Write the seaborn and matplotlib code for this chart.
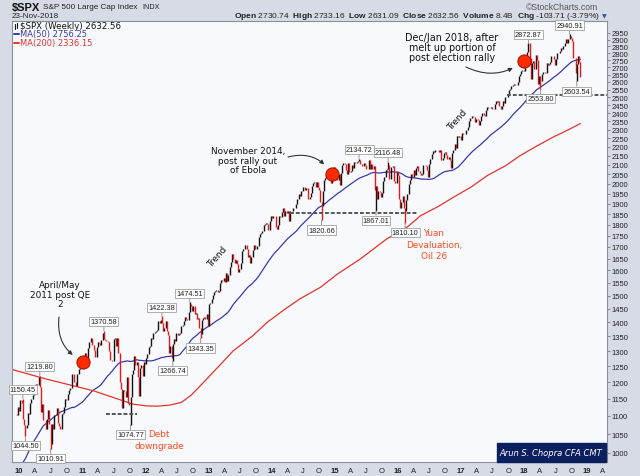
import numpy as np
import pandas as pd
import seaborn as sns
import matplotlib.pyplot as plt
import matplotlib.dates as mdates
from matplotlib.lines import Line2D
from matplotlib.patches import Rectangle

# weekly closes of $SPX, first week ends 2009-12-04
closes_2009 = [1105.98, 1106.41, 1102.47, 1126.48, 1115.10]
closes_2010 = [1144.98, 1136.03, 1091.76, 1073.87, 1066.19, 1075.51, 1109.17, 1104.49,
               1138.70, 1149.99, 1159.90, 1166.59, 1178.10, 1194.37, 1192.13, 1217.28, 1186.69,
               1110.88, 1135.68, 1087.69, 1089.41, 1064.88, 1091.60, 1117.51, 1076.76,
               1022.58, 1077.96, 1064.88, 1102.66, 1101.60, 1121.64, 1079.25, 1071.69, 1064.59,
               1104.51, 1109.55, 1125.59, 1148.67, 1146.24, 1165.15, 1176.19, 1183.08, 1183.26,
               1225.85, 1199.21, 1199.73, 1189.40, 1224.71, 1240.40, 1243.91, 1256.77, 1257.64]
closes_2011 = [1271.50, 1293.24, 1283.35, 1276.34, 1310.87, 1329.15, 1343.01, 1319.88,
               1321.15, 1304.28, 1279.21, 1313.80, 1332.41, 1328.17, 1319.68, 1337.38, 1363.61,
               1340.20, 1337.77, 1333.27, 1331.10, 1300.16, 1270.98, 1271.50, 1268.45,
               1339.67, 1343.80, 1316.14, 1345.02, 1292.28, 1199.38, 1178.81, 1123.53, 1176.80,
               1173.97, 1154.23, 1216.01, 1136.43, 1131.42, 1155.46, 1224.58, 1238.25, 1285.09,
               1253.23, 1263.85, 1215.65, 1158.67, 1244.28, 1255.19, 1219.66, 1265.33, 1257.60]
closes_2012 = [1277.81, 1289.09, 1315.38, 1316.33, 1344.90, 1342.64, 1361.23, 1365.74,
               1369.63, 1370.87, 1404.17, 1397.11, 1408.47, 1398.08, 1370.26, 1378.53, 1403.36,
               1369.10, 1353.39, 1295.22, 1317.82, 1278.04, 1325.66, 1342.84, 1335.02, 1362.16,
               1354.68, 1356.78, 1362.66, 1385.97, 1390.99, 1405.87, 1418.16, 1411.13, 1406.58,
               1437.92, 1465.77, 1460.15, 1440.67, 1460.93, 1428.59, 1433.19, 1411.94,
               1414.20, 1379.85, 1359.88, 1409.15, 1416.18, 1418.07, 1413.58, 1430.15, 1385.59]
closes_2013 = [1466.47, 1472.05, 1485.98, 1502.96, 1513.17, 1517.93, 1519.79, 1515.60,
               1518.20, 1551.18, 1560.70, 1556.89, 1569.19, 1553.28, 1588.85, 1555.25, 1582.24,
               1614.42, 1633.70, 1667.47, 1649.60, 1630.74, 1643.38, 1626.73, 1592.43, 1606.28,
               1631.89, 1680.19, 1692.09, 1691.65, 1709.67, 1691.42, 1655.83, 1663.50, 1632.97,
               1655.17, 1687.99, 1709.91, 1691.75, 1690.50, 1703.20, 1744.50, 1759.77,
               1761.64, 1770.61, 1798.18, 1804.76, 1805.81, 1805.09, 1775.32, 1818.32, 1841.40]
closes_2014 = [1831.37, 1842.37, 1838.70, 1790.29, 1782.59, 1797.02, 1838.63, 1836.25, 1859.45,
               1878.04, 1841.13, 1866.52, 1857.62, 1865.09, 1815.69, 1864.85, 1863.40,
               1881.14, 1878.48, 1877.86, 1900.53, 1923.57, 1949.44, 1936.16, 1962.87, 1960.96,
               1985.44, 1967.57, 1978.22, 1978.34, 1925.15, 1931.59, 1955.06, 1988.40, 2003.37,
               2007.71, 1985.54, 2010.40, 1982.85, 1967.90, 1906.13, 1886.76, 1964.58, 2018.05,
               2031.92, 2039.82, 2063.50, 2067.56, 2075.37, 2002.33, 2070.65, 2088.77]
closes_2015 = [2058.20, 2044.81, 2019.42, 2051.82, 1994.99, 2055.47, 2096.99, 2110.30, 2104.50,
               2071.26, 2053.40, 2108.10, 2061.02, 2066.96, 2102.06, 2081.18, 2117.69,
               2108.29, 2116.10, 2122.73, 2126.06, 2107.39, 2092.83, 2094.11, 2109.99, 2101.49,
               2076.78, 2076.62, 2126.64, 2079.65, 2103.84, 2077.57, 2091.54, 1970.89, 1988.87,
               1921.22, 1961.05, 1958.03, 1931.34, 1951.36, 2014.89, 2033.11, 2075.15, 2079.36,
               2099.20, 2023.04, 2089.17, 2090.11, 2091.69, 2012.37, 2005.55, 2060.99, 2043.94]
closes_2016 = [1922.03, 1880.33, 1906.90, 1940.24, 1880.05, 1864.78, 1917.78, 1948.05,
               1999.99, 2022.19, 2049.58, 2035.94, 2072.78, 2047.60, 2080.73, 2091.58, 2065.30,
               2057.14, 2046.61, 2052.32, 2099.06, 2099.13, 2096.07, 2071.22, 2037.41,
               2102.95, 2129.90, 2161.74, 2175.03, 2173.60, 2182.87, 2184.05, 2183.87, 2169.04,
               2179.98, 2127.81, 2139.16, 2164.69, 2168.27, 2153.74, 2132.98, 2141.16, 2126.41,
               2085.18, 2164.45, 2181.90, 2213.35, 2191.95, 2259.53, 2258.07, 2263.79, 2238.83]
closes_2017 = [2276.98, 2274.64, 2271.31, 2294.69, 2297.42, 2316.10, 2351.16, 2367.34,
               2383.12, 2372.60, 2378.25, 2343.98, 2362.72, 2355.54, 2328.95, 2348.69, 2384.20,
               2399.29, 2390.90, 2381.73, 2415.82, 2439.07, 2431.77, 2433.15, 2438.30, 2423.41,
               2425.18, 2459.27, 2472.54, 2472.10, 2476.83, 2441.32, 2425.55, 2443.05,
               2476.55, 2461.43, 2500.23, 2502.22, 2519.36, 2549.33, 2553.17, 2575.21, 2581.07,
               2587.84, 2582.30, 2578.85, 2602.42, 2642.22, 2651.50, 2675.81, 2683.34, 2673.61]
closes_2018 = [2743.15, 2786.24, 2810.30, 2872.87, 2762.13, 2619.55, 2732.22, 2747.30,
               2691.25, 2786.57, 2752.01, 2588.26, 2640.87, 2604.47, 2656.30, 2670.14, 2669.91,
               2663.42, 2727.72, 2712.97, 2721.33, 2734.62, 2779.03, 2779.66, 2754.88, 2718.37,
               2759.82, 2801.31, 2801.83, 2818.82, 2840.35, 2833.28, 2850.13, 2874.69, 2901.52,
               2871.68, 2904.98, 2929.67, 2913.98, 2885.57, 2767.13, 2767.78, 2658.69,
               2723.06, 2781.01, 2736.27, 2632.56]

# MA(50) before enough weekly history exists
ma50_early_dates = ["2009-12-04", "2010-02-05", "2010-03-19", "2010-05-21", "2010-07-16",
                    "2010-08-27", "2010-11-05"]
ma50_early_values = [945, 985, 1025, 1073, 1095, 1111, 1125]
# MA(200)
ma200_dates = ["2009-11-20", "2010-06-04", "2011-03-04", "2011-10-21", "2012-01-06", "2012-03-09",
               "2012-05-18", "2012-07-27", "2012-09-21", "2012-11-16", "2013-02-15", "2013-05-24",
               "2013-09-13", "2013-12-06", "2014-03-14", "2014-06-13", "2014-10-10", "2015-01-16",
               "2015-05-29", "2015-10-30", "2016-02-26", "2016-05-13", "2016-08-19", "2016-11-18",
               "2017-03-03", "2017-06-02", "2017-09-15", "2017-12-08", "2018-03-16", "2018-06-19",
               "2018-09-07", "2018-11-23"]
ma200_values = [1240, 1210, 1174, 1134, 1129, 1128, 1131, 1139, 1160, 1190, 1242, 1301, 1352,
                1400, 1446, 1487, 1532, 1585, 1648, 1736, 1790, 1843, 1885, 1932, 1985, 2043,
                2095, 2150, 2205, 2256, 2295, 2336]

# labelled weekly highs and lows
high_dates = ["2010-01-22", "2010-04-30", "2011-05-06", "2012-04-06", "2012-09-14",
              "2015-05-22", "2015-11-06", "2018-01-26", "2018-09-21"]
high_values = [1150.45, 1219.80, 1370.58, 1422.38, 1474.51, 2134.72, 2116.48, 2872.87, 2940.91]
low_dates = ["2010-02-05", "2010-07-02", "2011-10-07", "2012-06-08", "2012-11-16",
             "2014-10-17", "2015-08-28", "2016-02-12", "2018-04-06", "2018-11-02"]
low_values = [1044.50, 1010.91, 1074.77, 1266.74, 1343.35, 1820.66, 1867.01, 1810.10, 2553.80, 2603.54]

# support lines and highlighted points
support_start = ["2011-05-20", "2014-04-18", "2017-09-22"]
support_end = ["2011-11-11", "2016-04-29", "2019-04-26"]
support_level = [1105, 1855, 2515]
dot_dates = ["2011-01-07", "2014-12-19", "2017-12-29"]
dot_values = [1265, 2052, 2741]

closes = (closes_2009 + closes_2010 + closes_2011 + closes_2012 + closes_2013 +
          closes_2014 + closes_2015 + closes_2016 + closes_2017 + closes_2018)
weeks = pd.date_range("2009-12-04", periods=len(closes), freq="W-FRI")
bars = pd.DataFrame({"week": weeks, "close": closes})
bars["prev"] = bars["close"].shift(1).fillna(bars["close"].iloc[0])
bars["lo"] = bars[["prev", "close"]].min(axis=1)
bars["hi"] = bars[["prev", "close"]].max(axis=1)
for d, v in zip(high_dates, high_values):
    m = bars["week"] == pd.Timestamp(d)
    bars.loc[m, "hi"] = np.maximum(bars.loc[m, "hi"], v)
for d, v in zip(low_dates, low_values):
    m = bars["week"] == pd.Timestamp(d)
    bars.loc[m, "lo"] = np.minimum(bars.loc[m, "lo"], v)
bars["color"] = np.where(bars["close"] >= bars["prev"], "#111111", "#e31a1a")

ma50 = bars.set_index("week")["close"].rolling(50).mean().dropna()
ma50 = pd.concat([pd.Series(ma50_early_values, index=pd.to_datetime(ma50_early_dates)), ma50])

sns.set_style("white")
plt.rcParams["font.family"] = ["Liberation Sans", "DejaVu Sans"]
plt.rcParams["mathtext.fontset"] = "custom"
plt.rcParams["mathtext.bf"] = "Liberation Sans:bold"
plt.rcParams["mathtext.rm"] = "Liberation Sans"

W, H = 640, 477
fx = lambda x: x / W
fy = lambda y: 1 - y / H

fig = plt.figure(figsize=(6.4, 4.77), dpi=100, facecolor="#d6dbe5")
ax = fig.add_axes([fx(12), fy(463), fx(607) - fx(12), fy(22) - fy(463)])
ax.set_facecolor("#f8f9fc")

ax.vlines(bars["week"], bars["lo"], bars["hi"], colors=bars["color"], linewidth=1.0, zorder=3)
sns.lineplot(x=ma50.index, y=ma50.values, ax=ax, color="#3a3aa8", lw=0.9, zorder=2)
sns.lineplot(x=pd.to_datetime(ma200_dates), y=ma200_values, ax=ax, color="#e8322a", lw=0.9, zorder=2)

for s, e, lvl in zip(support_start, support_end, support_level):
    ax.hlines(lvl, mdates.date2num(pd.Timestamp(s)), mdates.date2num(pd.Timestamp(e)),
              color="#555555", lw=1.4, linestyle=(0, (2, 1)), zorder=4)

ax.plot(pd.to_datetime(dot_dates), dot_values, "o", ms=9.5, mfc="#ff2a00", mec="#a01000",
        mew=0.7, zorder=6)

box = dict(boxstyle="square,pad=0.15", fc="white", ec="#a0a0a0", lw=0.6)
for d, v in zip(high_dates, high_values):
    ax.annotate(f"{v:.2f}", xy=(pd.Timestamp(d), v), xytext=(0, 6.5), textcoords="offset points",
                ha="center", va="center", fontsize=5.3, color="#222222", bbox=box, zorder=7,
                arrowprops=dict(arrowstyle="-", color="#888888", lw=0.6, shrinkA=0, shrinkB=0))
for d, v in zip(low_dates, low_values):
    ax.annotate(f"{v:.2f}", xy=(pd.Timestamp(d), v), xytext=(0, -7), textcoords="offset points",
                ha="center", va="center", fontsize=5.3, color="#222222", bbox=box, zorder=7,
                arrowprops=dict(arrowstyle="-", color="#888888", lw=0.6, shrinkA=0, shrinkB=0))

ax.set_yscale("log")
ax.set_ylim(977, 3042)
yt = list(range(1000, 3000, 50))
ax.set_yticks(yt, [str(t) for t in yt])
ax.yaxis.set_minor_locator(plt.NullLocator())
ax.yaxis.tick_right()

ax.set_xlim(pd.Timestamp("2009-11-20"), pd.Timestamp("2019-04-26"))
qs = pd.date_range("2010-01-01", "2019-04-01", freq="QS")
xl = [f"{d.year % 100:02d}" if d.month == 1 else {4: "A", 7: "J", 10: "O"}[d.month] for d in qs]
ax.set_xticks(qs, xl)
ax.xaxis.set_minor_locator(plt.NullLocator())
for lbl in ax.get_xticklabels():
    if lbl.get_text().isdigit():
        lbl.set_fontweight("bold")
ax.tick_params(axis="both", length=2, width=0.6, pad=1.5, labelsize=5.5, colors="#777777",
               labelcolor="#222222")
ax.set_xlabel("")
ax.set_ylabel("")
for sp in ax.spines.values():
    sp.set_color("#8a8f99")
    sp.set_linewidth(0.8)

# header
fig.text(fx(12), fy(7.5), r"\$SPX", fontsize=8.0, weight="bold", va="center", color="#111111")
fig.text(fx(43), fy(7.5), "S&P 500 Large Cap Index", fontsize=5.9, va="center", color="#222222")
fig.text(fx(142), fy(7.5), "INDX", fontsize=5.2, va="center", color="#222222")
fig.text(fx(12), fy(16.5), "23-Nov-2018", fontsize=5.9, va="center", color="#222222")
fig.text(fx(598), fy(7), "©StockCharts.com", fontsize=6.2, va="center", ha="right", color="#555555")
fig.text(fx(600), fy(16.5),
         r"$\mathbf{Open}$ 2730.74  $\mathbf{High}$ 2733.16  $\mathbf{Low}$ 2631.09  "
         r"$\mathbf{Close}$ 2632.56  $\mathbf{Volume}$ 8.4B  $\mathbf{Chg}$ -103.71 (-3.79%)",
         fontsize=6.0, va="center", ha="right", color="#222222")
fig.text(fx(607), fy(16.5), "▼", fontsize=4.5, va="center", ha="right", color="#3355aa",
         family=["DejaVu Sans"])

# legend
fig.add_artist(Line2D([fx(15), fx(15)], [fy(24.5), fy(29.5)], color="#111111", lw=0.8))
fig.add_artist(Line2D([fx(17), fx(17)], [fy(23.5), fy(28.5)], color="#111111", lw=0.8))
fig.text(fx(20), fy(26.5), r"\$SPX (Weekly) 2632.56", fontsize=6.2, va="center",
         family=["DejaVu Sans"], color="#111111")
fig.add_artist(Line2D([fx(14), fx(19)], [fy(35), fy(35)], color="#3a3aa8", lw=1.4))
fig.text(fx(20), fy(35), "MA(50) 2756.25", fontsize=6.0, va="center", color="#3a3aa8",
         family=["DejaVu Sans"])
fig.add_artist(Line2D([fx(14), fx(19)], [fy(43.5), fy(43.5)], color="#e8322a", lw=1.4))
fig.text(fx(20), fy(43.5), "MA(200) 2336.15", fontsize=6.0, va="center", color="#e8322a",
         family=["DejaVu Sans"])

# commentary
note = dict(fontsize=6.4, ha="center", va="center", linespacing=1.05, family=["DejaVu Sans"])
fig.text(fx(60), fy(295), "April/May\n2011 post QE\n2", color="#111111", **note)
fig.text(fx(248), fy(161), "November 2014,\npost rally out\nof Ebola", color="#111111", **note)
fig.text(fx(452), fy(48), "Dec/Jan 2018, after\nmelt up portion of\npost election rally",
         color="#111111", **{**note, "fontsize": 6.9})
fig.text(fx(159), fy(435), "Debt", color="#ff4a1a", **note)
fig.text(fx(159), fy(446.5), "downgrade", color="#ff4a1a", **note)
fig.text(fx(434), fy(234), "Yuan", color="#ff4a1a", **note)
fig.text(fx(434), fy(245.5), "Devaluation,", color="#ff4a1a", **note)
fig.text(fx(434), fy(257), "Oil 26", color="#ff4a1a", **note)
fig.text(fx(217), fy(257), "Trend", color="#111111", rotation=48, **note)
fig.text(fx(457), fy(120), "Trend", color="#111111", rotation=48, **note)

arrow = dict(arrowstyle="-|>", color="#333333", lw=0.8, mutation_scale=6, shrinkA=0, shrinkB=9)
starts = [(59, 318), (288, 158), (466, 68)]
rads = [0.35, -0.35, 0.3]
for (sx, sy), d, v, r in zip(starts, dot_dates, dot_values, rads):
    ax.annotate("", xy=(pd.Timestamp(d), v), xytext=(fx(sx), fy(sy)), textcoords="figure fraction",
                arrowprops=dict(connectionstyle=f"arc3,rad={r}", **arrow), zorder=8)

# signature
fig.add_artist(Rectangle((fx(497), fy(463)), fx(606) - fx(497), fy(444) - fy(463),
                         transform=fig.transFigure, color="#0c1f5e", zorder=10))
fig.text(fx(551), fy(453.5), "Arun S. Chopra CFA CMT", fontsize=6, style="italic",
         color="white", ha="center", va="center", family=["DejaVu Sans"], zorder=11)

fig.savefig("out.png", dpi=100, facecolor=fig.get_facecolor())
